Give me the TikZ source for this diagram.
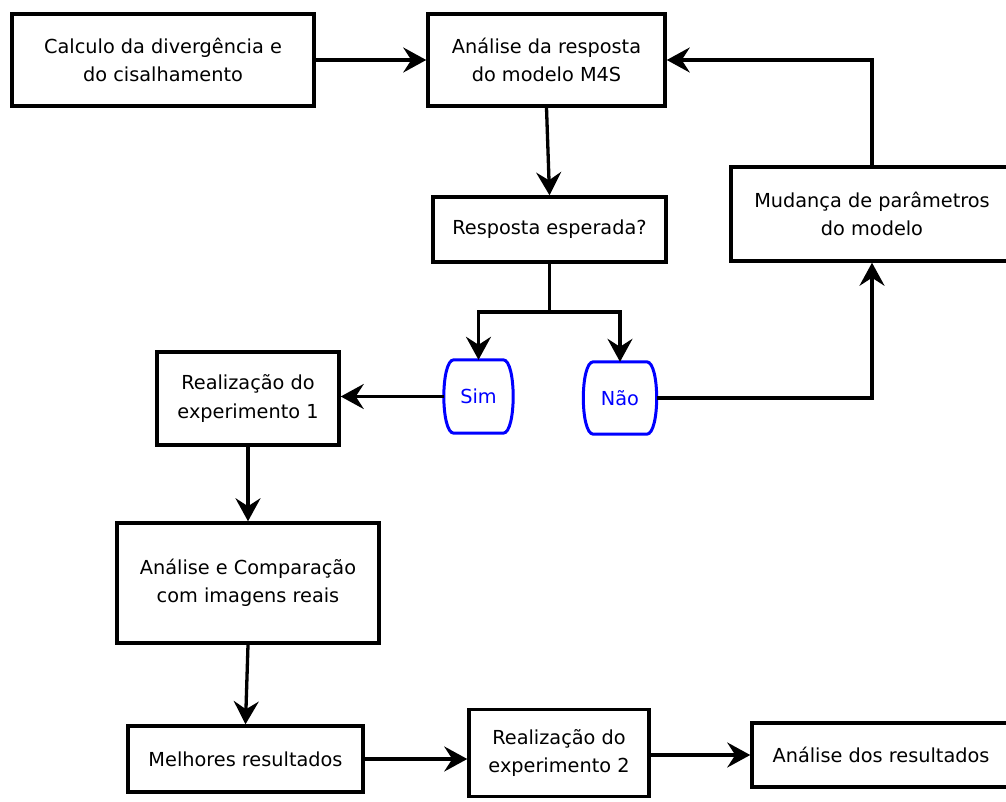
\documentclass[tikz,border=0pt]{standalone}
\usepackage{fontspec}
\setmainfont{DejaVu Sans}
\usetikzlibrary{arrows.meta}

\tikzset{
  box/.style={draw=black, line width=3.5pt, fill=white, inner sep=0pt,
              align=center, font=\fontsize{19.3}{28.5}\selectfont},
  choice/.style={inner sep=0pt, text=blue, font=\fontsize{19.3}{28.5}\selectfont},
  choiceline/.style={draw=blue, line width=3pt},
  conn/.style={draw=black, line width=3.3pt},
  flow/.style={conn, -{Stealth[length=23pt, width=25pt, inset=8pt]}}
}

\begin{document}
\begin{tikzpicture}[x=1pt, y=-1pt]
  \useasboundingbox (0,0) rectangle (1006,802);

  % process boxes
  \node[box, minimum width=302pt, minimum height=92pt] (calc) at (163,60)
    {Calculo da divergência e\\do cisalhamento};
  \node[box, minimum width=237pt, minimum height=92pt] (ana) at (546.5,60)
    {Análise da resposta\\do modelo M4S};
  \node[box, minimum width=233pt, minimum height=65pt] (resp) at (549.5,229.5)
    {Resposta esperada?};
  \node[box, minimum width=282pt, minimum height=94pt] (mud) at (872,214)
    {Mudança de parâmetros\\do modelo};
  \node[box, minimum width=182pt, minimum height=93pt] (real1) at (248,398.5)
    {Realização do\\experimento 1};
  \node[box, minimum width=262pt, minimum height=120pt] (comp) at (248,583)
    {Análise e Comparação\\com imagens reais};
  \node[box, minimum width=235pt, minimum height=66pt] (melh) at (245.5,759)
    {Melhores resultados};
  \node[box, minimum width=180pt, minimum height=87pt] (real2) at (559,753)
    {Realização do\\experimento 2};
  \node[box, minimum width=258pt, minimum height=64pt] (anres) at (881,755)
    {Análise dos resultados};

  % decision outcomes
  \node[choice, minimum width=69pt, minimum height=73pt] (sim) at (478.5,396.5) {Sim};
  \node[choice, minimum width=73pt, minimum height=72pt] (nao) at (620,398) {Não};
  \foreach \n in {sim,nao} {
    \draw[choiceline]
      ([xshift=10pt]\n.north west) -- ([xshift=-10pt]\n.north east)
      .. controls ([xshift=3.3pt]\n.north east) and ([xshift=3.3pt]\n.south east) ..
      ([xshift=-10pt]\n.south east) -- ([xshift=10pt]\n.south west)
      .. controls ([xshift=-3.3pt]\n.south west) and ([xshift=-3.3pt]\n.north west) ..
      cycle;
  }

  % connectors
  \coordinate (branch) at (549.5,312);
  \draw[flow] (calc.east) -- (ana.west);
  \draw[flow] (ana.south) -- (resp.north);
  \draw[conn] (resp.south) -- (branch);
  \draw[flow] (branch) -| (sim.north);
  \draw[flow] (branch) -| (nao.north);
  \draw[flow] (sim.west) -- (sim.west -| real1.east);
  \draw[flow] (nao.east) -| (mud.south);
  \draw[flow] (mud.north) |- (ana.east);
  \draw[flow] (real1.south) -- (comp.north);
  \draw[flow] (comp.south) -- (melh.north);
  \draw[flow] (melh.east) -- (melh.east -| real2.west);
  \draw[flow] (real2.east |- anres.west) -- (anres.west);
\end{tikzpicture}
\end{document}
